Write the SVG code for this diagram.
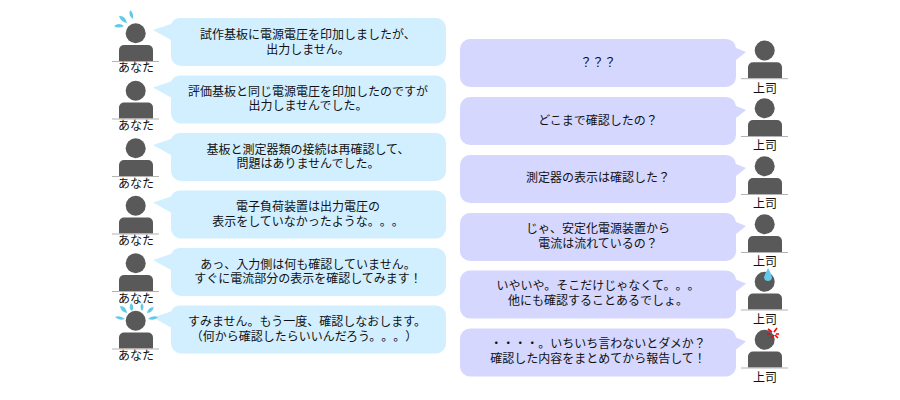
<svg xmlns="http://www.w3.org/2000/svg" xmlns:xlink="http://www.w3.org/1999/xlink" width="900" height="400" viewBox="0 0 900 400">
<style>
text{font-family:"Noto Sans CJK JP","Noto Sans",sans-serif;font-size:12px;fill:#111;text-anchor:middle;text-spacing-trim:space-all;line-height:1}
.a{fill:#d2efff}.b{fill:#d5d7ff}.p{fill:#595959}.l{stroke:#b3b3b3;stroke-width:1;fill:none}.s{fill:#63c9e8}.r{fill:none;stroke:#f00;stroke-width:1.6}
</style>
<defs>
<g id="person"><circle class="p" cx="135.7" cy="33.300" r="10"/><path class="p" d="M119 61V50a5 5 0 0 1 5-5h24a5 5 0 0 1 5 5v11z"/><path class="l" d="M112 61.500h47"/></g>
<path id="ba" class="a" d="M181 18h255a10 10 0 0 1 10 10v28a10 10 0 0 1-10 10H181a10 10 0 0 1-10-10V40L153 30l18-6a10 10 0 0 1 10-6z"/>
<path id="bb" class="b" d="M470 39h256a10 10 0 0 1 10 9l10 4-10 8v17a10 10 0 0 1-10 10H470a10 10 0 0 1-10-10V49a10 10 0 0 1 10-10z"/>
</defs>
<g id="connectors"/>
<g id="a1"><use xlink:href="#ba"/><use xlink:href="#person"/>
<path class="s" d="M114 26q5-4 10 0q-6 3-10 0zM119 16q6-1 8 7q-6-1-8-7zM130 10q4 3 3 9q-5-3-3-9z"/>
<text x="136" y="72">あなた</text><text x="308" y="39">試作基板に電源電圧を印加しましたが、</text><text x="308" y="53.500">出力しません。</text></g>
<g id="a2"><use xlink:href="#ba" y="57.500"/><use xlink:href="#person" y="57.500"/>
<text x="136" y="129.500">あなた</text><text x="308" y="95.500">評価基板と同じ電源電圧を印加したのですが</text><text x="308" y="110">出力しませんでした。</text></g>
<g id="a3"><use xlink:href="#ba" y="115"/><use xlink:href="#person" y="115"/>
<text x="136" y="187.500">あなた</text><text x="308" y="153.500">基板と測定器類の接続は再確認して、</text><text x="308" y="168">問題はありませんでした。</text></g>
<g id="a4"><use xlink:href="#ba" y="172.500"/><use xlink:href="#person" y="172.500"/>
<text x="136" y="245">あなた</text><text x="308" y="211">電子負荷装置は出力電圧の</text><text x="308" y="225.500">表示をしていなかったような。。。</text></g>
<g id="a5"><use xlink:href="#ba" y="230"/><use xlink:href="#person" y="230"/>
<text x="136" y="302.500">あなた</text><text x="308" y="268.500">あっ、入力側は何も確認していません。</text><text x="308" y="283">すぐに電流部分の表示を確認してみます！</text></g>
<g id="a6"><use xlink:href="#ba" y="287.500"/><use xlink:href="#person" y="287.500"/>
<path class="s" d="M115 317q5-2 10 2q-6 2-10-2zM120 306q6 0 7 7q-6-1-7-7zM131 303q4 3 1 8q-4-3-1-8zM142 303q3 4 0 8q-3-4 0-8zM154 306q-1 7-7 7q1-6 7-6zM158 317q-3 4-10 2q4-4 10-2z"/>
<text x="136" y="360">あなた</text><text x="307" y="326">すみません。もう一度、確認しなおします。</text><text x="304" y="340.500">（何から確認したらいいんだろう。。。）</text></g>
<g id="b1"><use xlink:href="#bb"/><use xlink:href="#person" x="629" y="17.200"/>
<text x="598" y="67">？？？</text><text x="765" y="93">上司</text></g>
<g id="b2"><use xlink:href="#bb" y="58"/><use xlink:href="#person" x="629" y="75"/>
<text x="598" y="125">どこまで確認したの？</text><text x="765" y="150">上司</text></g>
<g id="b3"><use xlink:href="#bb" y="116"/><use xlink:href="#person" x="629" y="133"/>
<text x="598" y="182">測定器の表示は確認した？</text><text x="765" y="208">上司</text></g>
<g id="b4"><use xlink:href="#bb" y="174"/><use xlink:href="#person" x="629" y="191"/>
<text x="598" y="233">じゃ、安定化電源装置から</text><text x="598" y="247.500">電流は流れているの？</text><text x="765" y="266">上司</text></g>
<g id="b5"><use xlink:href="#bb" y="231.500"/><use xlink:href="#person" x="629" y="248.500"/>
<path class="s" d="M768 268q-4 8-4 10a4.200 4.200 0 0 0 8 0q0-3-4-10z"/>
<text x="598" y="290">いやいや。そこだけじゃなくて。。。</text><text x="598" y="304.500">他にも確認することあるでしょ。</text><text x="765" y="324">上司</text></g>
<g id="b6"><use xlink:href="#bb" y="289.500"/><use xlink:href="#person" x="629" y="306.500"/>
<path class="r" d="M768 329l4 3M777 328l-3 4M771 338l3-3M767 334l3 0M779 334l-3 0M778 338l-3-3"/>
<text x="598" y="348">・・・・。いちいち言わないとダメか？</text><text x="598" y="362.500">確認した内容をまとめてから報告して！</text><text x="765" y="382">上司</text></g>
</svg>
